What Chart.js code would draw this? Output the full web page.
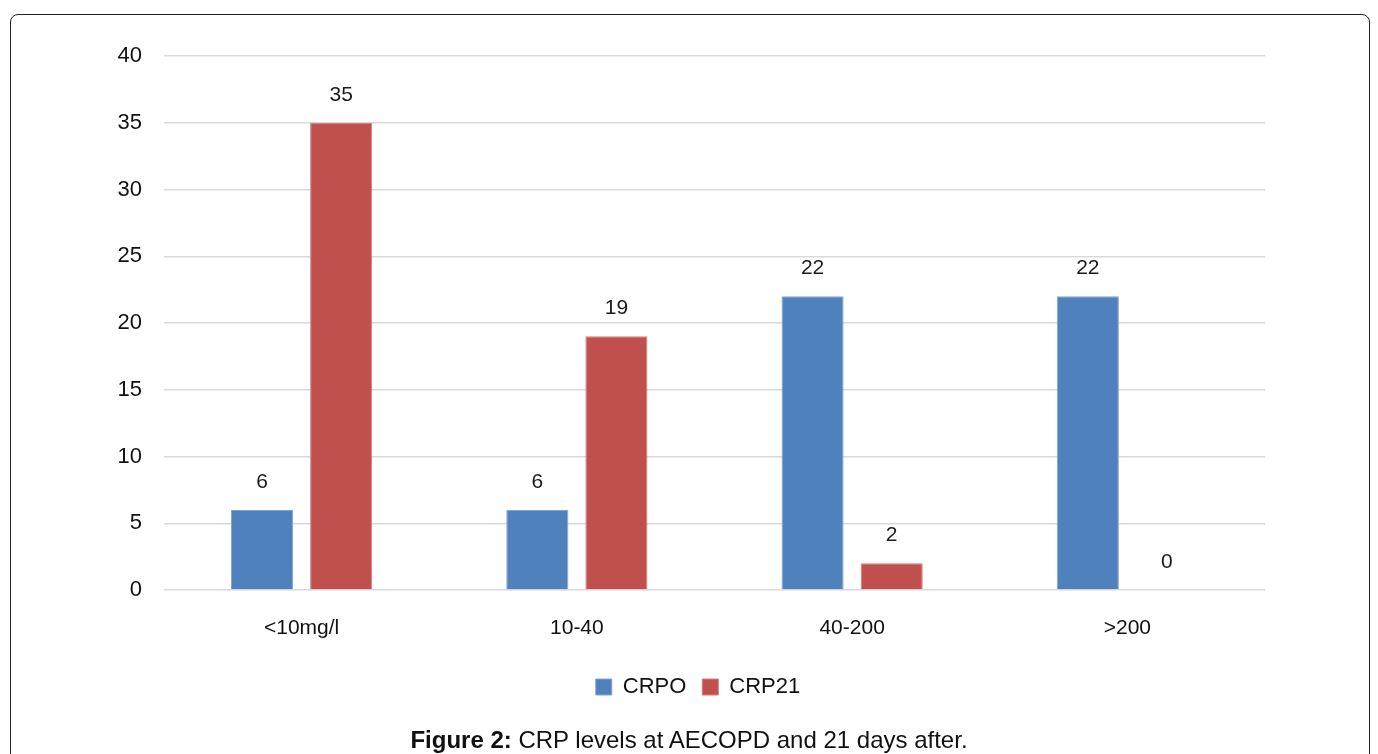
<!DOCTYPE html>
<html>
<head>
<meta charset="utf-8">
<script src="https://cdn.jsdelivr.net/npm/chart.js@4/dist/chart.umd.min.js"></script>
<style>
  html, body { margin: 0; padding: 0; background: #fff; }
  body { width: 1378px; height: 754px; position: relative; overflow: hidden; font-family: "Liberation Sans", Arial, sans-serif; }
  #frame { position: absolute; left: 10px; top: 14px; width: 1360px; height: 780px; border: 1.5px solid #222; border-radius: 8px; box-sizing: border-box; }
  #wrap { position: absolute; left: 0; top: 0; width: 1378px; height: 754px; }
  #caption { position: absolute; left: 0; width: 1378px; top: 726px; line-height: 28px; text-align: center; font-size: 24px; color: #111; }
</style>
</head>
<body>
<div id="frame"></div>
<div id="wrap"><canvas id="chart" width="1378" height="754"></canvas></div>
<div id="caption"><b>Figure 2:</b> CRP levels at AECOPD and 21 days after.</div>
<script>
const categories = ["<10mg/l", "10-40", "40-200", ">200"];
const crpO = [6, 6, 22, 22];
const crp21 = [35, 19, 2, 0];
const seriesNames = ["CRPO", "CRP21"];

const FONT = '"Liberation Sans", Arial, sans-serif';

// Value labels above each bar
const valueLabels = {
  id: "valueLabels",
  afterDatasetsDraw(chart) {
    const ctx = chart.ctx;
    ctx.save();
    ctx.font = "21px " + FONT;
    ctx.fillStyle = "#1a1a1a";
    ctx.textAlign = "center";
    ctx.textBaseline = "middle";
    chart.data.datasets.forEach((ds, i) => {
      chart.getDatasetMeta(i).data.forEach((bar, j) => {
        ctx.fillText(String(ds.data[j]), bar.x, bar.y - 28);
      });
    });
    ctx.restore();
  }
};

new Chart(document.getElementById("chart"), {
  type: "bar",
  data: {
    labels: categories,
    datasets: [
      { label: seriesNames[0], data: crpO, backgroundColor: "#4F81BD", borderColor: "#7FA6D6", borderWidth: 1 },
      { label: seriesNames[1], data: crp21, backgroundColor: "#C0504D", borderColor: "#D47E7B", borderWidth: 1 }
    ]
  },
  options: {
    responsive: false,
    animation: false,
    devicePixelRatio: 1,
    categoryPercentage: 0.575,
    barPercentage: 0.785,
    layout: { padding: { left: 18, right: 0, top: 56, bottom: 46 } },
    plugins: {
      legend: {
        position: "bottom",
        labels: {
          boxWidth: 16, boxHeight: 16, padding: 16,
          color: "#111",
          font: { size: 22, family: FONT }
        }
      },
      tooltip: { enabled: false }
    },
    scales: {
      x: {
        grid: { display: false },
        border: { display: false },
        ticks: { color: "#111", padding: 18, font: { size: 21, family: FONT } },
        afterFit(scale) { scale.height = 70; }
      },
      y: {
        min: 0, max: 40,
        ticks: { stepSize: 5, color: "#111", padding: 22, font: { size: 22, family: FONT } },
        grid: { color: "#d9d9d9", lineWidth: 1.5, drawTicks: false },
        border: { display: false },
        afterFit(scale) { scale.width = 146; }
      },
      // empty right-hand margin axis
      yRight: {
        position: "right",
        min: 0, max: 40,
        ticks: { display: false },
        grid: { display: false },
        border: { display: false },
        afterFit(scale) { scale.width = 113; }
      }
    }
  },
  plugins: [valueLabels]
});
</script>
</body>
</html>
